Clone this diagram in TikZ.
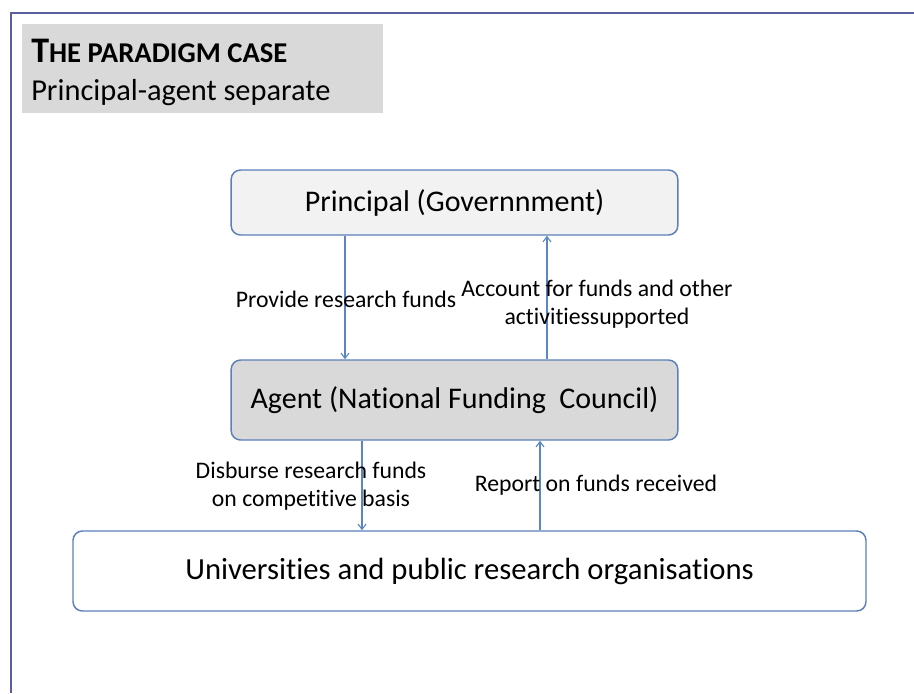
\documentclass[tikz,border=0pt]{standalone}
\usepackage{fontspec}
\setmainfont{Carlito}[Ligatures=NoCommon]
\definecolor{frameblue}{HTML}{5B5FA0}
\definecolor{boxblue}{HTML}{5B80B8}
\definecolor{linkblue}{HTML}{5A86C4}
\definecolor{titlegray}{HTML}{D9D9D9}
\definecolor{lightfill}{HTML}{F2F2F2}
\tikzset{
  actor/.style={draw=boxblue,line width=1.1pt,rounded corners=7pt,
    minimum width=335pt,font=\fontsize{22.5}{27}\selectfont},
  link/.style={draw=linkblue,line width=0.8pt,-{Straight Barb[length=4pt,width=6pt]}},
  linklabel/.style={align=center,font=\fontsize{17.8}{21.5}\selectfont,inner sep=0pt}
}
\usetikzlibrary{arrows.meta}
\begin{document}
\begin{tikzpicture}[x=0.75pt,y=-0.75pt]
\useasboundingbox (0,0) rectangle (914,693);
% Frame and title
\draw[frameblue,line width=1.5pt] (10.5,693) -- (10.5,12.5) -- (914,12.5);
\fill[titlegray] (22,24) rectangle (383,113);
\node[anchor=base west,inner sep=0pt,font=\bfseries] (title) at (31,62)
  {\fontsize{27}{31}\selectfont T\fontsize{21.5}{25}\selectfont HE PARADIGM CASE};
\node[anchor=base west,inner sep=0pt,font=\fontsize{22.8}{27}\selectfont] (subtitle) at (31,100)
  {Principal-agent separate};
% Boxes
\node[actor,fill=lightfill,minimum height=48.75pt] (principal) at (454.5,202.5)
  {\raisebox{-2pt}{Principal (Governnment)}};
\node[actor,fill=titlegray,minimum height=60pt] (agent) at (454.5,400)
  {Agent (National Funding\ \ Council)};
\node[actor,fill=white,minimum width=594.75pt,minimum height=60pt,font=\fontsize{23}{27}\selectfont] (univ) at (469.5,571)
  {Universities and public research organisations};
% Funds going down, reports going up
\draw[link] (principal.south -| 345,0) -- (agent.north -| 345,0);
\draw[link] (agent.north -| 547,0) -- (principal.south -| 547,0);
\draw[link] (agent.south -| 362,0) -- (univ.north -| 362,0);
\draw[link] (univ.north -| 540,0) -- (agent.south -| 540,0);
\node[linklabel] (provide) at (346,299) {Provide research funds};
\node[linklabel] (account) at (597,304) {Account for funds and other\\activitiessupported};
\node[linklabel] (disburse) at (311,486) {Disburse research funds\\on competitive basis};
\node[linklabel] (report) at (596,485) {Report on funds received};
\end{tikzpicture}
\end{document}
